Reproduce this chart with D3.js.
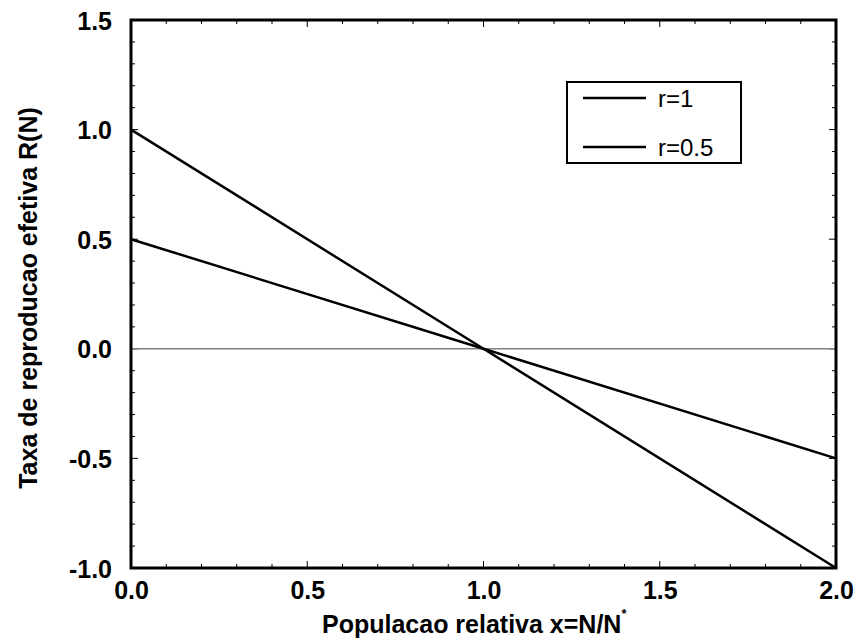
<!DOCTYPE html>
<html>
<head>
<meta charset="utf-8">
<script src="https://cdn.jsdelivr.net/npm/d3@7/dist/d3.min.js"></script>
<style>
  html, body { margin: 0; padding: 0; background: #fff; }
  svg { display: block; font-family: "Liberation Sans", Arial, sans-serif; }
</style>
</head>
<body>
<svg id="chart" width="857" height="639"></svg>
<script>
// Relative population x = N/N*
const xValues = [0, 1, 2];
// Effective reproduction rate R(N) = r (1 - x)
const seriesR1 = [1, 0, -1];
const seriesR05 = [0.5, 0, -0.5];
const seriesNames = ["r=1", "r=0.5"];
const xTicks = [0, 0.5, 1.0, 1.5, 2.0];
const yTicks = [-1.0, -0.5, 0.0, 0.5, 1.0, 1.5];

const svg = d3.select("#chart");
const margin = { left: 131, right: 21, top: 20, bottom: 71 };
const W = 857, H = 639;
const x = d3.scaleLinear().domain([0, 2]).range([margin.left, W - margin.right]);
const y = d3.scaleLinear().domain([-1, 1.5]).range([H - margin.bottom, margin.top]);

// One decimal, plain hyphen for negatives
const fmt = v => d3.format(".1f")(v).replace("\u2212", "-");

// Minor ticks every 0.1, major every 0.5, drawn inward on all four sides
const xMinor = d3.range(0, 2.0001, 0.1);
const yMinor = d3.range(-1, 1.5001, 0.1);
const g = svg.append("g");

function isMajor(v) { return Math.abs(v * 2 - Math.round(v * 2)) < 1e-6; }

xMinor.forEach(v => {
  const len = isMajor(v) ? 7 : 4;
  g.append("line").attr("x1", x(v)).attr("x2", x(v))
    .attr("y1", y(-1)).attr("y2", y(-1) - len)
    .attr("stroke", "#000").attr("stroke-width", 1);
  g.append("line").attr("x1", x(v)).attr("x2", x(v))
    .attr("y1", y(1.5)).attr("y2", y(1.5) + len)
    .attr("stroke", "#000").attr("stroke-width", 1);
});
yMinor.forEach(v => {
  const len = isMajor(v) ? 7 : 4;
  g.append("line").attr("y1", y(v)).attr("y2", y(v))
    .attr("x1", x(0)).attr("x2", x(0) + len)
    .attr("stroke", "#000").attr("stroke-width", 1);
  g.append("line").attr("y1", y(v)).attr("y2", y(v))
    .attr("x1", x(2)).attr("x2", x(2) - len)
    .attr("stroke", "#000").attr("stroke-width", 1);
});

// Zero reference line
svg.append("line")
  .attr("x1", x(0)).attr("x2", x(2))
  .attr("y1", y(0)).attr("y2", y(0))
  .attr("stroke", "#808080").attr("stroke-width", 1.5);

// Series lines
const line = d3.line().x((d, i) => x(xValues[i])).y(d => y(d));
[seriesR1, seriesR05].forEach(s => {
  svg.append("path").datum(s)
    .attr("d", line)
    .attr("fill", "none")
    .attr("stroke", "#000")
    .attr("stroke-width", 2.5);
});

// Frame
svg.append("rect")
  .attr("x", x(0)).attr("y", y(1.5))
  .attr("width", x(2) - x(0)).attr("height", y(-1) - y(1.5))
  .attr("fill", "none").attr("stroke", "#000").attr("stroke-width", 3);

// Tick labels
const xAxis = d3.axisBottom(x).tickValues(xTicks).tickFormat(fmt).tickSize(0).tickPadding(0);
const xg = svg.append("g").attr("transform", `translate(0,${y(-1)})`).call(xAxis);
xg.select(".domain").remove();
xg.selectAll("text")
  .attr("dy", null).attr("y", 31)
  .attr("font-family", "Liberation Sans, Arial, sans-serif")
  .attr("font-size", 25).attr("font-weight", "bold").attr("fill", "#000");

const yAxis = d3.axisLeft(y).tickValues(yTicks).tickFormat(fmt).tickSize(0).tickPadding(0);
const yg = svg.append("g").attr("transform", `translate(${x(0) - 19},0)`).call(yAxis);
yg.select(".domain").remove();
yg.selectAll("text")
  .attr("x", 0).attr("dy", "0.36em")
  .attr("font-family", "Liberation Sans, Arial, sans-serif")
  .attr("font-size", 25).attr("font-weight", "bold").attr("fill", "#000");

// Axis titles
const xt = svg.append("text")
  .attr("x", 322).attr("y", 633)
  .attr("text-anchor", "start")
  .attr("font-size", 25).attr("font-weight", "bold").attr("fill", "#000");
xt.append("tspan").text("Populacao relativa x=N/N");
xt.append("tspan").text("*").attr("font-size", 13).attr("dy", -15);

svg.append("text")
  .attr("transform", `translate(37,298) rotate(-90)`)
  .attr("text-anchor", "middle")
  .attr("font-size", 25).attr("font-weight", "bold").attr("fill", "#000")
  .text("Taxa de reproducao efetiva R(N)");

// Legend
const lg = svg.append("g");
lg.append("rect").attr("x", 567).attr("y", 82).attr("width", 174).attr("height", 81)
  .attr("fill", "#fff").attr("stroke", "#000").attr("stroke-width", 2);
seriesNames.forEach((name, i) => {
  const yy = 98 + i * 49;
  lg.append("line").attr("x1", 583).attr("x2", 646).attr("y1", yy).attr("y2", yy)
    .attr("stroke", "#000").attr("stroke-width", 2.5);
  lg.append("text").attr("x", 658).attr("y", yy + 9)
    .attr("font-size", 24).attr("fill", "#000").text(name);
});
</script>
</body>
</html>
